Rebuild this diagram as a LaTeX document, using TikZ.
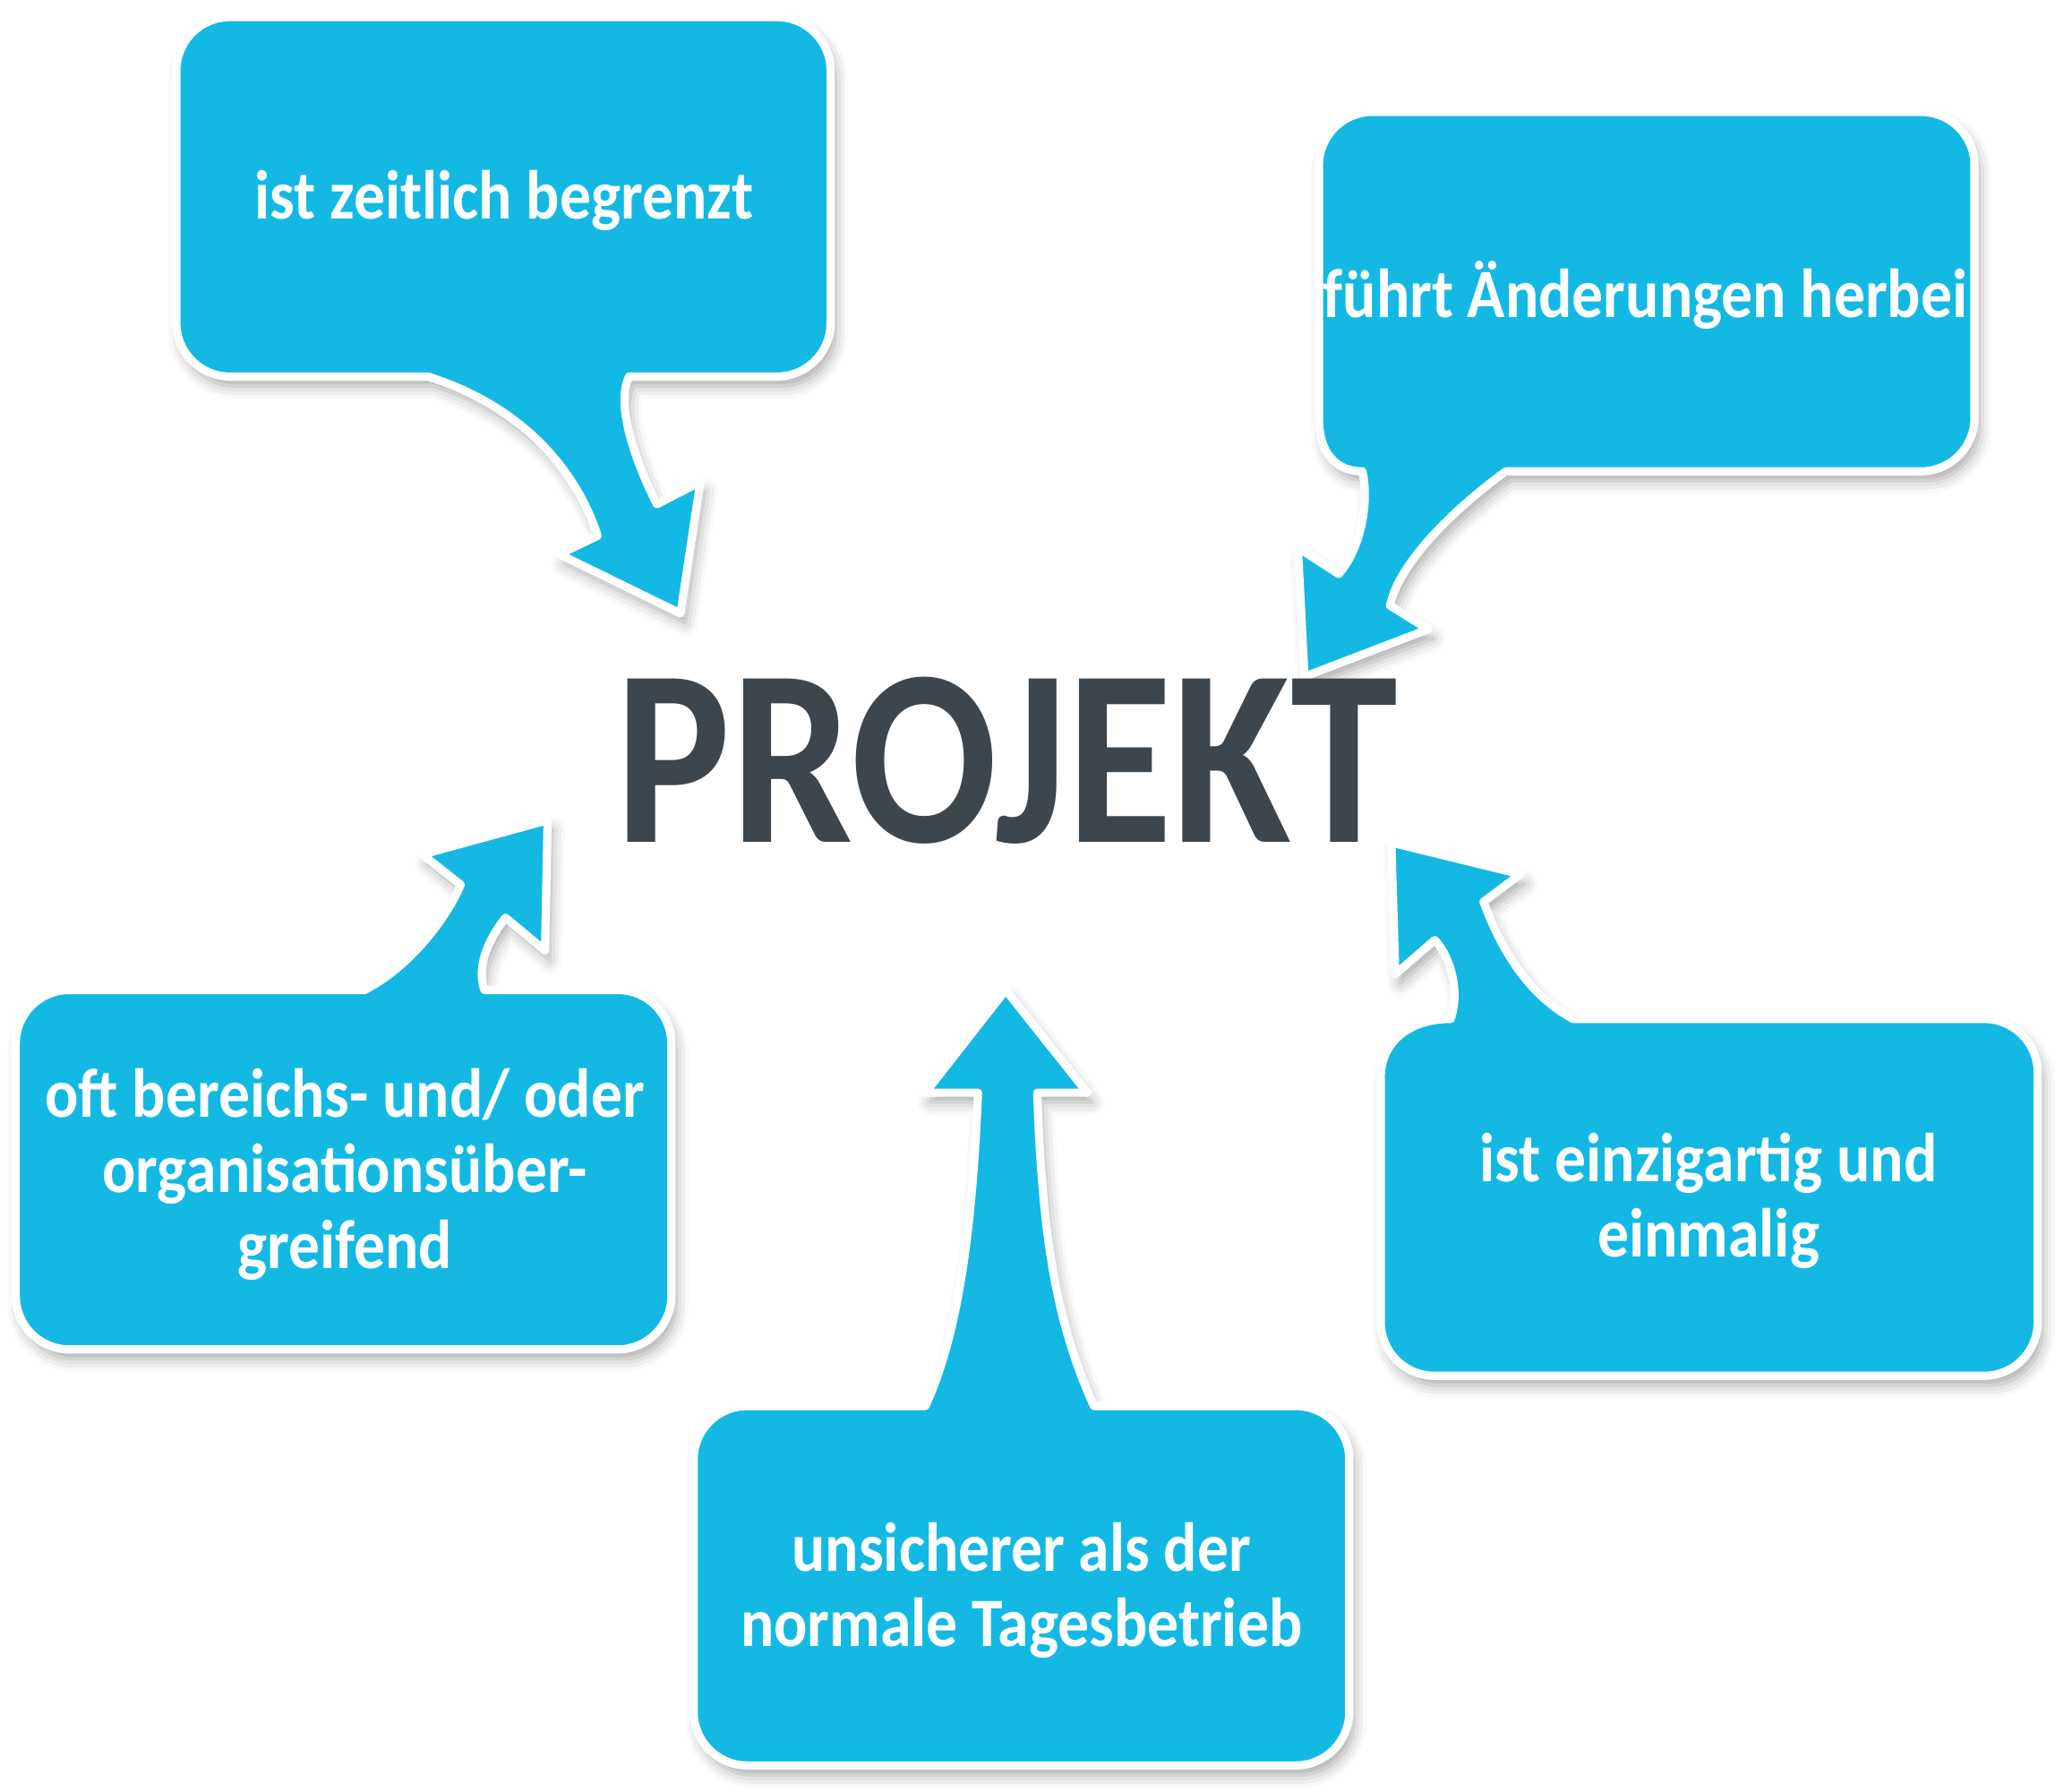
\documentclass[tikz,border=0pt]{standalone}
\usepackage{fontspec}
\setmainfont{Carlito}[FakeStretch=0.9]
\newfontfamily\projfont{Carlito}[FakeStretch=0.86]
\usetikzlibrary{shadows.blur}
\definecolor{calloutblue}{RGB}{19,185,227}
\definecolor{projgray}{RGB}{61,69,77}
\begin{document}
\begin{tikzpicture}[x=0.0147cm,y=-0.0147cm,line join=round,
	callout/.style={fill=calloutblue,draw=white,line width=2.6pt,
		blur shadow={shadow xshift=1.5pt,shadow yshift=-3pt,shadow blur radius=4pt,shadow opacity=35}},
	calltext/.style={text=white,font=\fontsize{22}{24}\selectfont\bfseries,align=center}]
	\useasboundingbox (0,0) rectangle (1568,1361);
	% oben links
	\draw[callout] (478,286) [rounded corners=17pt] -- (631,286) -- (631,13) -- (134,13) -- (134,286)
	[sharp corners] -- (325,286) .. controls (395,308) and (437,355) .. (454,407) -- (425,421) -- (517,466) -- (532,366) -- (499,383)
	.. controls (480,345) and (468,305) .. (478,286) -- cycle;
	% oben rechts
	\draw[callout] (1144,358) [rounded corners=17pt] -- (1500,358) -- (1500,85) -- (1002,85)
	[sharp corners] -- (1002,318) .. controls (1002,343) and (1014,358) .. (1035,358)
	.. controls (1040,380) and (1035,415) .. (1017,436) -- (986,416) -- (991,514) -- (1085,478) -- (1056,460)
	.. controls (1062,430) and (1100,390) .. (1144,358) -- cycle;
	% mitte links
	\draw[callout] (368,752) [rounded corners=17pt] -- (510,752) -- (510,1025) -- (12,1025) -- (12,752)
	[sharp corners] -- (277,752) .. controls (310,735) and (338,700) .. (350,672) -- (321,649) -- (416,623) -- (414,722) -- (384,697)
	.. controls (370,715) and (362,735) .. (368,752) -- cycle;
	% mitte rechts
	\draw[callout] (1195,774) [rounded corners=17pt] -- (1548,774) -- (1548,1045) -- (1049,1045)
	[sharp corners] -- (1049,818) .. controls (1049,793) and (1069,774) .. (1102,774)
	.. controls (1109,755) and (1103,728) .. (1090,714) -- (1060,740) -- (1057,640) -- (1155,664) -- (1127,685)
	.. controls (1140,720) and (1160,755) .. (1195,774) -- cycle;
	% unten
	\draw[callout] (831,1068) [rounded corners=17pt] -- (1025,1068) -- (1025,1341) -- (527,1341) -- (527,1068)
	[sharp corners] -- (703,1068) .. controls (725,1020) and (738,950) .. (743,830) -- (703,830) -- (764,752) -- (826,830) -- (788,830)
	.. controls (792,950) and (805,1010) .. (831,1068) -- cycle;
	% texte
	\node[calltext] (zeit) at (383,152) {ist zeitlich begrenzt};
	\node[calltext] (aend) at (1250,224) {führt Änderungen herbei};
	\node[calltext] (bereich) at (262,892) {oft bereichs- und/ oder\\organisationsüber-\\greifend};
	\node[calltext] (einz) at (1298,912) {ist einzigartig und\\einmalig};
	\node[calltext] (unsich) at (776,1208) {unsicherer als der\\normale Tagesbetrieb};
	\node[text=projgray,font=\projfont\fontsize{80}{80}\selectfont\bfseries] (projekt) at (765,578) {PROJEKT};
\end{tikzpicture}
\end{document}
